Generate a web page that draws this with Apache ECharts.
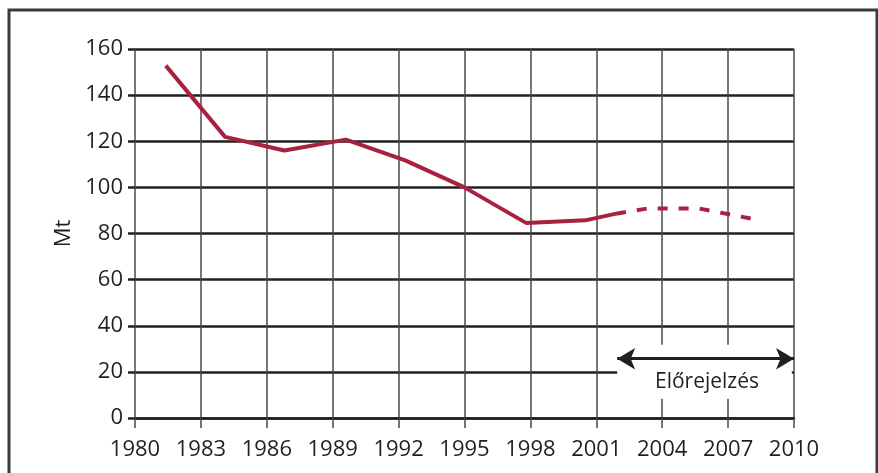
<!DOCTYPE html>
<html>
<head>
<meta charset="utf-8">
<script src="https://cdn.jsdelivr.net/npm/echarts@6/dist/echarts.min.js"></script>
<style>
  html, body { margin: 0; padding: 0; background: #fff; }
  #chart { width: 878px; height: 473px; }
</style>
</head>
<body>
<div id="chart"></div>
<script>
// tényleges adatok (év, Mt)
const actualYears = [1981.4, 1984.1, 1986.8, 1989.6, 1992.3, 1995.0, 1997.8, 2000.5, 2001.9];
const actualValues = [152.8, 121.9, 116.0, 120.7, 111.7, 100.0, 84.6, 85.7, 88.6];
// előrejelzés
const forecastYears = [2001.9, 2003.3, 2005.7, 2008.5];
const forecastValues = [88.6, 90.8, 90.8, 85.6];
const forecastLabel = 'Előrejelzés';

const LINE_COLOR = '#a8213e';
const INK = '#231f20';
const FONT = 'Open Sans';

function pairs(xs, ys) {
  return xs.map((x, i) => [x, ys[i]]);
}

const chart = echarts.init(document.getElementById('chart'));

chart.setOption({
  animation: false,
  backgroundColor: '#fff',
  grid: { left: 135, right: 84, top: 49, bottom: 55 },
  xAxis: {
    type: 'value',
    min: 1980,
    max: 2010,
    interval: 3,
    axisLine: { show: true, lineStyle: { color: INK, width: 2.5 } },
    axisTick: { show: true, length: 10, lineStyle: { color: '#4a4a4a', width: 1.5 } },
    axisLabel: { color: INK, fontSize: 22, fontFamily: FONT, margin: 21, formatter: v => String(v) },
    splitLine: { show: true, lineStyle: { color: '#4a4a4a', width: 1.5 } }
  },
  yAxis: {
    type: 'value',
    min: 0,
    max: 160,
    interval: 20,
    name: 'Mt',
    nameLocation: 'middle',
    nameRotate: 90,
    nameGap: 58,
    nameTextStyle: { color: INK, fontSize: 22, fontFamily: FONT },
    axisLine: { show: false },
    axisTick: { show: true, length: 7, lineStyle: { color: INK, width: 2.5 } },
    axisLabel: { color: INK, fontSize: 22, fontFamily: FONT, margin: 12 },
    splitLine: { show: true, lineStyle: { color: INK, width: 2.5 } }
  },
  series: [
    {
      type: 'line',
      data: pairs(actualYears, actualValues),
      symbol: 'none',
      lineStyle: { color: LINE_COLOR, width: 4 },
      z: 3,
      // fehér háttér az előrejelzés felirat alatt
      markArea: {
        silent: true,
        itemStyle: { color: '#fff', opacity: 1 },
        data: [[{ coord: [2001.95, 31.8] }, { coord: [2009.9, 8.4] }]]
      }
    },
    {
      type: 'line',
      data: pairs(forecastYears, forecastValues),
      symbol: 'none',
      clip: false,
      lineStyle: { color: LINE_COLOR, width: 4, type: [10, 11] },
      z: 4,
      markLine: {
        silent: true,
        symbol: ['arrow', 'arrow'],
        symbolSize: [16, 18],
        label: { show: false },
        emphasis: { disabled: true },
        lineStyle: { color: INK, width: 3, type: 'solid', opacity: 1 },
        data: [[{ coord: [2001.95, 25.7] }, { coord: [2010, 25.7] }]]
      }
    }
  ],
  graphic: [
    {
      type: 'rect',
      shape: { x: 9, y: 10, width: 868, height: 480 },
      style: { fill: 'none', stroke: '#3a3a3a', lineWidth: 3 },
      silent: true
    },
    {
      type: 'text',
      x: 707,
      y: 382,
      style: {
        text: forecastLabel,
        fill: INK,
        font: '21px "' + FONT + '"',
        textAlign: 'center',
        textVerticalAlign: 'middle'
      },
      z: 10
    }
  ]
});
</script>
</body>
</html>
